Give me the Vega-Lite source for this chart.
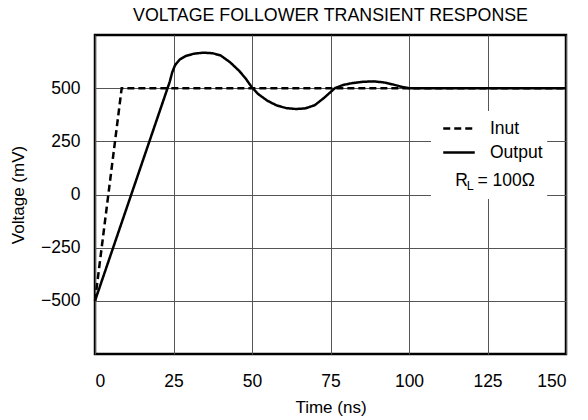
{
  "$schema": "https://vega.github.io/schema/vega-lite/v6.json",
  "width": 471,
  "height": 319,
  "autosize": "none",
  "padding": {"left": 95, "top": 35, "right": 22, "bottom": 66},
  "background": "white",
  "config": {
    "font": "Liberation Sans",
    "view": {"stroke": "black", "strokeWidth": 2.5},
    "axis": {"domain": false, "ticks": false, "gridColor": "#555", "gridOpacity": 1, "gridWidth": 1, "labelFontSize": 17.5, "titleFontSize": 17, "labelColor": "black", "titleColor": "black", "titleFontWeight": "normal"}
  },
  "title": {"text": "VOLTAGE FOLLOWER TRANSIENT RESPONSE", "fontSize": 17.8, "fontWeight": "normal", "color": "black", "offset": 10, "anchor": "middle"},
  "datasets": {
    "curves": [
      {"series": "Inut", "t": 0, "v": -500},
      {"series": "Inut", "t": 8.5, "v": 500},
      {"series": "Inut", "t": 150, "v": 500},
      {"series": "Output", "t": 0, "v": -500},
      {"series": "Output", "t": 23.8, "v": 530},
      {"series": "Output", "t": 24.6, "v": 575},
      {"series": "Output", "t": 25.5, "v": 608},
      {"series": "Output", "t": 27, "v": 635},
      {"series": "Output", "t": 29, "v": 652},
      {"series": "Output", "t": 31.5, "v": 662},
      {"series": "Output", "t": 34.5, "v": 667},
      {"series": "Output", "t": 37.5, "v": 664},
      {"series": "Output", "t": 40, "v": 654},
      {"series": "Output", "t": 43, "v": 622},
      {"series": "Output", "t": 46, "v": 580},
      {"series": "Output", "t": 48, "v": 545},
      {"series": "Output", "t": 50, "v": 503},
      {"series": "Output", "t": 52, "v": 472},
      {"series": "Output", "t": 55, "v": 440},
      {"series": "Output", "t": 58, "v": 418},
      {"series": "Output", "t": 61, "v": 406},
      {"series": "Output", "t": 64, "v": 402},
      {"series": "Output", "t": 67, "v": 405},
      {"series": "Output", "t": 70, "v": 420},
      {"series": "Output", "t": 73, "v": 455},
      {"series": "Output", "t": 76.4, "v": 500},
      {"series": "Output", "t": 79, "v": 515},
      {"series": "Output", "t": 82, "v": 524},
      {"series": "Output", "t": 85.5, "v": 530},
      {"series": "Output", "t": 88.6, "v": 532},
      {"series": "Output", "t": 92, "v": 527},
      {"series": "Output", "t": 95, "v": 517},
      {"series": "Output", "t": 98, "v": 505},
      {"series": "Output", "t": 100, "v": 500},
      {"series": "Output", "t": 150, "v": 500}
    ],
    "one": [{"k": 1}]
  },
  "layer": [
    {
      "data": {"name": "one"},
      "mark": {"type": "rect", "fill": "white"},
      "encoding": {
        "x": {"datum": 107, "type": "quantitative", "scale": {"domain": [0, 150]}},
        "x2": {"datum": 144},
        "y": {"datum": 393, "type": "quantitative", "scale": {"domain": [-750, 750]}},
        "y2": {"datum": -21}
      }
    },
    {
      "data": {"name": "curves"},
      "mark": {"type": "line", "color": "black", "strokeWidth": 2.5},
      "encoding": {
        "x": {"field": "t", "type": "quantitative", "scale": {"domain": [0, 150], "nice": false},
              "axis": {"values": [0, 25, 50, 75, 100, 125, 150], "grid": true, "title": "Time (ns)", "labelPadding": 18, "titlePadding": 10}},
        "y": {"field": "v", "type": "quantitative", "scale": {"domain": [-750, 750], "nice": false},
              "axis": {"values": [-500, -250, 0, 250, 500], "grid": true, "title": "Voltage (mV)", "labelPadding": 15, "titlePadding": 13}},
        "detail": {"field": "series"},
        "strokeDash": {"field": "series", "type": "nominal",
          "scale": {"domain": ["Inut", "Output"], "range": [[7, 4], [1, 0]]},
          "legend": {"title": null, "orient": "none", "legendX": 352, "legendY": 81.5, "symbolType": "M-1.5,0L1.5,0", "symbolSize": 441, "symbolStrokeWidth": 2.5, "symbolStrokeColor": "black", "symbolFillColor": "transparent", "labelFontSize": 17.5, "labelColor": "black", "labelOffset": 19, "rowPadding": 3, "padding": 0}
        }
      }
    },
    {
      "data": {"name": "one"},
      "mark": {"type": "text", "align": "left", "baseline": "middle", "fontSize": 17.5, "color": "black"},
      "encoding": {"x": {"datum": 114.7, "type": "quantitative"}, "y": {"datum": 65, "type": "quantitative"}, "text": {"value": "R"}}
    },
    {
      "data": {"name": "one"},
      "mark": {"type": "text", "align": "left", "baseline": "middle", "fontSize": 12.5, "dy": 5, "color": "black"},
      "encoding": {"x": {"datum": 118.4, "type": "quantitative"}, "y": {"datum": 65, "type": "quantitative"}, "text": {"value": "L"}}
    },
    {
      "data": {"name": "one"},
      "mark": {"type": "text", "align": "left", "baseline": "middle", "fontSize": 17.5, "color": "black"},
      "encoding": {"x": {"datum": 121.8, "type": "quantitative"}, "y": {"datum": 65, "type": "quantitative"}, "text": {"value": "= 100Ω"}}
    }
  ]
}
